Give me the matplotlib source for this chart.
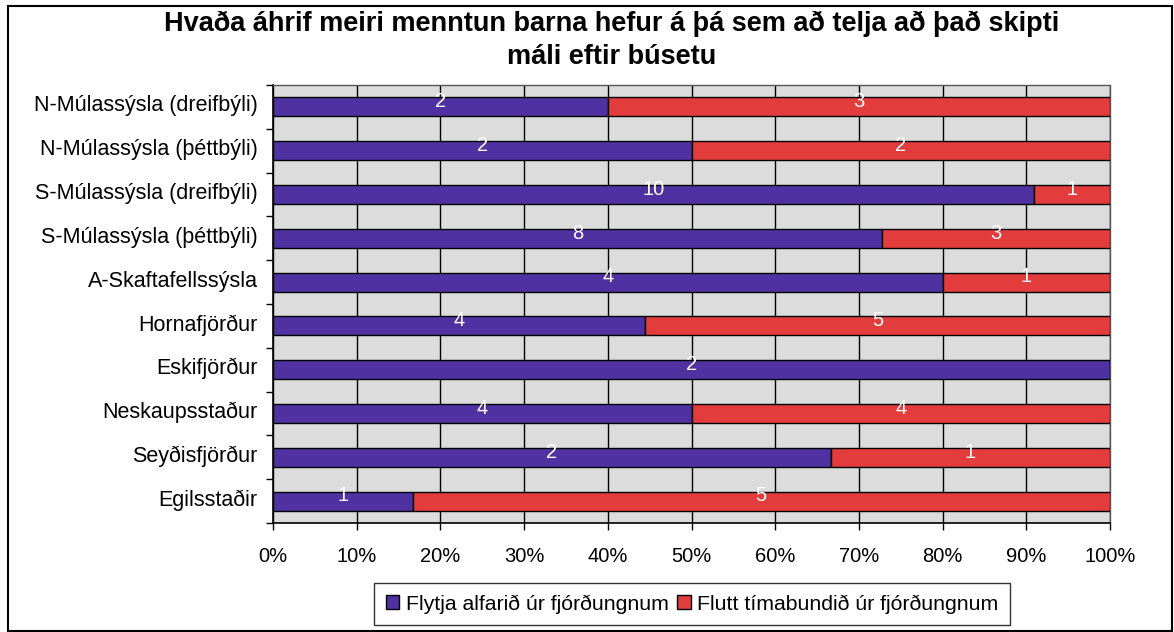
import matplotlib
matplotlib.use("Agg")
import matplotlib.pyplot as plt
from matplotlib.patches import Rectangle
from matplotlib.ticker import FixedLocator, PercentFormatter
import numpy as np

plt.rcParams['font.family'] = ['Liberation Sans', 'DejaVu Sans']

title = "Hvaða áhrif meiri menntun barna hefur á þá sem að telja að það skipti\nmáli eftir búsetu"
categories = [
    "N-Múlassýsla (dreifbýli)",
    "N-Múlassýsla (þéttbýli)",
    "S-Múlassýsla (dreifbýli)",
    "S-Múlassýsla (þéttbýli)",
    "A-Skaftafellssýsla",
    "Hornafjörður",
    "Eskifjörður",
    "Neskaupsstaður",
    "Seyðisfjörður",
    "Egilsstaðir",
]
series_names = ["Flytja alfarið úr fjórðungnum", "Flutt tímabundið úr fjórðungnum"]
flytja = [2, 2, 10, 8, 4, 4, 2, 4, 2, 1]
flutt = [3, 2, 1, 3, 1, 5, 0, 4, 1, 5]
x_ticks = [0, 10, 20, 30, 40, 50, 60, 70, 80, 90, 100]

colors = ['#5031a2', '#e23c3c']

W, H = 1174, 632
fig = plt.figure(figsize=(W / 100, H / 100), dpi=100)
fig.patch.set_facecolor('white')

ax = fig.add_axes([273 / W, 1 - 523 / H, (1110 - 273) / W, (523 - 85) / H])
ax.set_facecolor('#dcdcdc')

a = np.array(flytja, dtype=float)
b = np.array(flutt, dtype=float)
tot = a + b
pa = a / tot * 100
pb = b / tot * 100
y = np.arange(len(categories))

bh = 0.43
ax.barh(y, pa, height=bh, color=colors[0], edgecolor='black', linewidth=1.0,
        label=series_names[0], zorder=3)
ax.barh(y, pb, left=pa, height=bh, color=colors[1], edgecolor='black', linewidth=1.0,
        label=series_names[1], zorder=3)

for i in range(len(categories)):
    if a[i] > 0:
        ax.text(pa[i] / 2, y[i] - 0.12, f"{int(a[i])}", color='white', ha='center',
                va='center', fontsize=14.5, zorder=4)
    if b[i] > 0:
        ax.text(pa[i] + pb[i] / 2, y[i] - 0.12, f"{int(b[i])}", color='white', ha='center',
                va='center', fontsize=14.5, zorder=4)

ax.set_xlim(0, 100)
ax.set_ylim(len(categories) - 0.5, -0.5)

ax.xaxis.set_major_locator(FixedLocator(x_ticks))
ax.xaxis.set_major_formatter(PercentFormatter(decimals=0))
ax.grid(axis='x', color='black', linewidth=1.0, zorder=1)
ax.set_axisbelow(True)

ax.set_yticks(np.arange(-0.5, len(categories), 1.0))
ax.set_yticklabels([])
ax.set_yticks(y - 0.08, minor=True)
ax.set_yticklabels(categories, minor=True)
ax.tick_params(axis='y', which='major', length=5, width=1, direction='out')
ax.tick_params(axis='y', which='minor', length=0, pad=11, labelsize=15.5)
ax.tick_params(axis='x', which='major', length=5, width=1, direction='out', pad=12,
               labelsize=14.5)

for s in ['left', 'bottom']:
    ax.spines[s].set_color('black')
    ax.spines[s].set_linewidth(1.2)
for s in ['top', 'right']:
    ax.spines[s].set_color('#555555')
    ax.spines[s].set_linewidth(1.0)
    ax.spines[s].set_linestyle((0, (2, 1)))

fig.text(612 / W, 1 - 40 / H, title, ha='center', va='center', fontsize=19.5,
         fontweight='bold', linespacing=1.35)

leg = fig.legend(loc='center', bbox_to_anchor=(692 / W, 1 - 604 / H), ncol=2,
                 frameon=True, fancybox=False, fontsize=15.3, handlelength=0.65,
                 handleheight=0.65, handletextpad=0.3, columnspacing=0.4,
                 borderpad=0.55)
leg.get_frame().set_edgecolor('black')
leg.get_frame().set_linewidth(1.0)

fig.patches.append(Rectangle((8 / W, 1 / H), (1172 - 8) / W, (626 - 1) / H,
                             transform=fig.transFigure, fill=False,
                             edgecolor='black', linewidth=1.5))

fig.savefig('out.png', dpi=100)
